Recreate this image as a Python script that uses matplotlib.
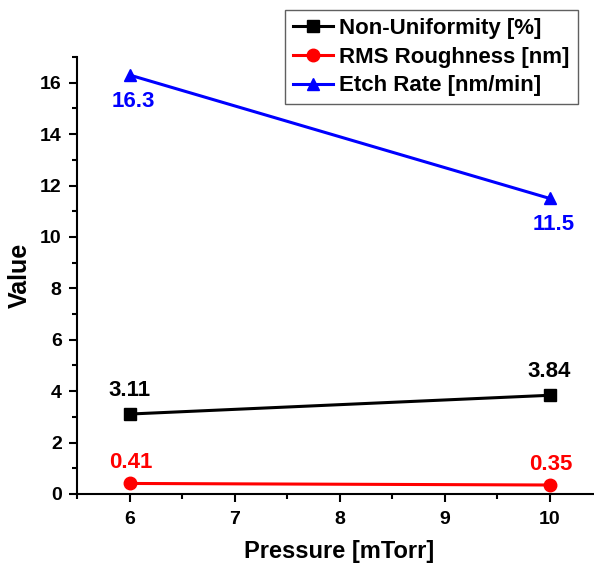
import matplotlib
matplotlib.use("Agg")
import matplotlib.pyplot as plt
from matplotlib.ticker import MultipleLocator

plt.rcParams['font.family'] = ['Liberation Sans', 'DejaVu Sans']
plt.rcParams['font.weight'] = 'bold'

pressure = [6, 10]
non_uniformity = [3.11, 3.84]
rms_roughness = [0.41, 0.35]
etch_rate = [16.3, 11.5]

fig = plt.figure(figsize=(5.94, 5.72), dpi=100)
ax = fig.add_axes([77/594, 78/572, 525/594, 437/572])

ax.plot(pressure, non_uniformity, color='black', lw=2.2, marker='s', ms=8,
        label='Non-Uniformity [%]')
ax.plot(pressure, rms_roughness, color='red', lw=2.2, marker='o', ms=9,
        label='RMS Roughness [nm]')
ax.plot(pressure, etch_rate, color='blue', lw=2.2, marker='^', ms=9,
        label='Etch Rate [nm/min]')

# value labels
for x, y in zip(pressure, etch_rate):
    ax.annotate(f"{y:.1f}", (x, y), xytext=(3, -19), textcoords='offset points',
                ha='center', va='center', color='blue', fontsize=16, fontweight='bold')
for x, y in zip(pressure, non_uniformity):
    ax.annotate(f"{y:.2f}", (x, y), xytext=(0, 17), textcoords='offset points',
                ha='center', va='center', color='black', fontsize=16, fontweight='bold')
for x, y in zip(pressure, rms_roughness):
    ax.annotate(f"{y:.2f}", (x, y), xytext=(1, 15), textcoords='offset points',
                ha='center', va='center', color='red', fontsize=16, fontweight='bold')

ax.set_xlim(5.5, 10.5)
ax.set_ylim(0, 17)
ax.xaxis.set_major_locator(MultipleLocator(1))
ax.xaxis.set_minor_locator(MultipleLocator(0.5))
ax.yaxis.set_major_locator(MultipleLocator(2))
ax.yaxis.set_minor_locator(MultipleLocator(1))

for s in ['top', 'right']:
    ax.spines[s].set_visible(False)
for s in ['left', 'bottom']:
    ax.spines[s].set_linewidth(1.5)

ax.tick_params(which='major', direction='out', length=6, width=1.5, labelsize=14)
ax.tick_params(which='minor', direction='out', length=3.5, width=1.5)
ax.tick_params(axis='x', pad=6)
ax.tick_params(axis='y', pad=5)
for lab in ax.get_xticklabels() + ax.get_yticklabels():
    lab.set_fontweight('bold')

ax.set_xlabel('Pressure [mTorr]', fontsize=17, fontweight='bold', labelpad=9)
ax.set_ylabel('Value', fontsize=18, fontweight='bold', labelpad=6)

leg = ax.legend(loc='upper left', bbox_to_anchor=(285/594, 1 - 10/572),
                bbox_transform=fig.transFigure, borderaxespad=0, fontsize=16,
                fancybox=False, framealpha=1, edgecolor='#606060',
                handlelength=1.8, handletextpad=0.3, labelspacing=0.35,
                borderpad=0.35)
leg.get_frame().set_linewidth(1.0)
for t in leg.get_texts():
    t.set_fontweight('bold')

fig.savefig('out.png', dpi=100)
